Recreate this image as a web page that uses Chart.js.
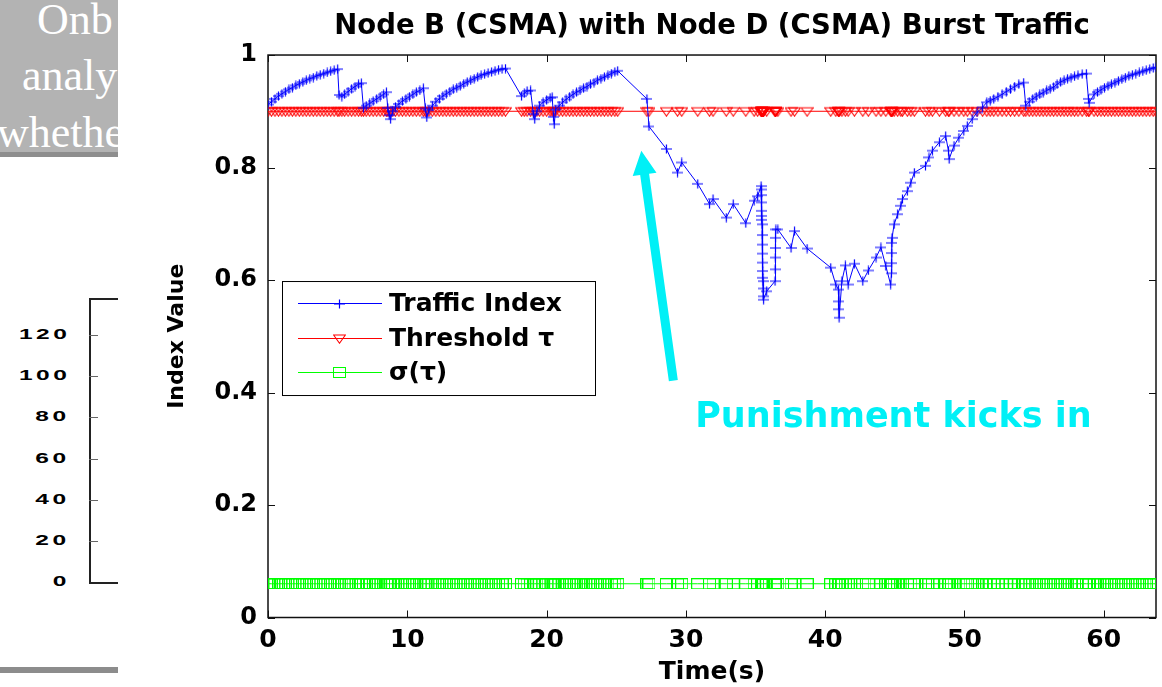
<!DOCTYPE html>
<html>
<head>
<meta charset="utf-8">
<title>Node B (CSMA) with Node D (CSMA) Burst Traffic</title>
<script src="https://cdn.jsdelivr.net/npm/chart.js@4.4.1/dist/chart.umd.min.js"></script>
<style>
  html, body { margin: 0; padding: 0; background: #fff; }
  #wrap { position: relative; width: 1162px; height: 687px; overflow: hidden; background: #fff; }
  #chart { position: absolute; left: 0; top: 0; width: 1162px; height: 687px; }
  #side { position: absolute; left: 0; top: 0; width: 118px; height: 687px; overflow: hidden; background: #fff; }
  #panel { position: absolute; left: 0; top: 0; width: 118px; height: 152px; background: #b3b3b3; overflow: hidden; }
  #panel span { position: absolute; white-space: nowrap; color: #fff; font: 44px/1 "Liberation Serif", "Times New Roman", serif; }
  #panelEdge { position: absolute; left: 0; top: 152px; width: 118px; height: 5px; background: #8e8e8e; }
  #footBar { position: absolute; left: 0; top: 667px; width: 118px; height: 6px; background: #8c8c8c; }
  .rule { position: absolute; background: #222; }
  .tick { position: absolute; background: #666; height: 1px; }
  .sideLabel { position: absolute; right: 48px; height: 18px; line-height: 18px; white-space: nowrap;
               font: bold 14px "Liberation Sans", Arial, sans-serif; letter-spacing: 2px; color: #000;
               transform: scaleX(1.75); transform-origin: right center; }
</style>
</head>
<body>
<div id="wrap">
  <canvas id="chart" width="1162" height="687"></canvas>
  <div id="side">
    <div id="panel">
      <span style="left:37px; top:-2px;">Onb</span>
      <span style="left:22px; top:54px;">analy</span>
      <span style="left:-3px; top:111px;">whethe</span>
    </div>
    <div id="panelEdge"></div>
    <div id="miniAxis"></div>
    <div id="footBar"></div>
  </div>
</div>
<script>
// ---- data -------------------------------------------------------------
const TITLE = 'Node B (CSMA) with Node D (CSMA) Burst Traffic';
const X_TITLE = 'Time(s)';
const Y_TITLE = 'Index Value';
const SERIES_NAMES = ['Traffic Index', 'Threshold \u03c4', '\u03c3(\u03c4)'];

// sample times (s)
const TIME = [
  0.00, 0.25, 0.50, 0.75, 1.00, 1.25, 1.50, 1.75, 2.00, 2.25, 2.50, 2.75, 3.00, 3.25, 3.50, 3.75, 4.00, 4.25, 4.50, 4.75, 5.00,
  5.10, 5.30, 5.50, 5.75, 6.00, 6.25, 6.50, 6.70,
  6.85, 7.05, 7.30, 7.55, 7.80, 8.05, 8.30, 8.50,
  8.60, 8.70, 8.80, 8.95, 9.15, 9.40, 9.65, 9.90, 10.15, 10.40, 10.65, 10.90, 11.15,
  11.30, 11.40, 11.55, 11.80, 12.05, 12.30, 12.55, 12.80, 13.05, 13.30, 13.55, 13.80, 14.05, 14.30, 14.55, 14.80, 15.05, 15.30, 15.55, 15.80, 16.05, 16.30, 16.55, 16.80, 17.05,
  18.20, 18.40, 18.60, 18.85,
  19.05, 19.15, 19.30, 19.50, 19.75, 20.00, 20.25, 20.40,
  20.50, 20.55, 20.65, 20.90, 21.15, 21.40, 21.65, 21.90, 22.15, 22.40, 22.65, 22.90, 23.15, 23.40, 23.65, 23.90, 24.15, 24.40, 24.65, 24.90, 25.10,
  27.20, 27.35, 28.60, 29.40, 29.70, 30.85, 31.70, 31.95, 32.90, 33.40, 34.30, 34.90, 35.15,
  35.40, 35.41, 35.42, 35.43, 35.44, 35.45, 35.46, 35.47, 35.48, 35.49, 35.50, 35.51, 35.52, 35.53, 35.54, 35.55, 35.56, 35.58,
  35.80, 36.40, 36.41, 36.42, 36.43, 36.44, 36.46, 36.60, 37.55, 37.80, 38.70, 40.40, 40.76,
  40.95, 40.97, 40.99, 41.00,
  41.20, 41.45, 41.65, 42.10, 42.70, 43.10, 43.65, 44.00, 44.35, 44.70,
  44.76, 44.77, 44.78, 44.79, 44.80,
  44.95, 45.20, 45.43, 45.55, 45.90, 46.15, 46.40, 47.20, 47.45, 47.70, 48.20, 48.65, 48.85, 48.90, 49.25, 49.60,
  49.95, 50.20, 50.55, 50.90, 51.30, 51.60, 51.85, 52.10, 52.40, 52.70, 53.00, 53.30, 53.60, 53.90, 54.25,
  54.40, 54.65, 54.90, 55.15, 55.40, 55.65, 55.90, 56.15, 56.40, 56.65, 56.90, 57.15, 57.40, 57.65, 57.90, 58.15, 58.45, 58.75,
  58.90, 58.95, 59.30, 59.55, 59.80, 60.05, 60.30, 60.55, 60.80, 61.05, 61.30, 61.55, 61.80, 62.05, 62.30, 62.55, 62.80, 63.05, 63.30, 63.55, 63.75
];

// traffic index at each sample time
const TRAFFIC_INDEX = [
  0.912, 0.917, 0.922, 0.927, 0.931, 0.935, 0.939, 0.942, 0.946, 0.949, 0.952, 0.955, 0.958, 0.960, 0.963, 0.965, 0.967, 0.969, 0.971, 0.973, 0.975,
  0.929, 0.926, 0.930, 0.935, 0.940, 0.944, 0.948, 0.950,
  0.906, 0.910, 0.914, 0.918, 0.922, 0.926, 0.930, 0.934,
  0.906, 0.893, 0.886, 0.900, 0.908, 0.913, 0.918, 0.922, 0.926, 0.930, 0.934, 0.937, 0.941,
  0.905, 0.889, 0.902, 0.910, 0.917, 0.922, 0.927, 0.931, 0.935, 0.939, 0.942, 0.945, 0.949, 0.952, 0.955, 0.958, 0.961, 0.964, 0.966, 0.968, 0.970, 0.972, 0.974, 0.975, 0.976,
  0.927, 0.932, 0.936, 0.937,
  0.895, 0.886, 0.900, 0.910, 0.916, 0.920, 0.924, 0.925,
  0.890, 0.877, 0.903, 0.910, 0.916, 0.921, 0.926, 0.930, 0.934, 0.937, 0.941, 0.944, 0.948, 0.951, 0.955, 0.958, 0.961, 0.964, 0.967, 0.970, 0.972,
  0.922, 0.873, 0.833, 0.791, 0.809, 0.771, 0.735, 0.744, 0.711, 0.735, 0.701, 0.741, 0.749,
  0.767, 0.761, 0.751, 0.738, 0.723, 0.714, 0.707, 0.699, 0.680, 0.663, 0.647, 0.631, 0.616, 0.604, 0.598, 0.585, 0.571, 0.565,
  0.580, 0.598, 0.619, 0.640, 0.657, 0.675, 0.690, 0.690, 0.657, 0.687, 0.656, 0.622, 0.592,
  0.583, 0.562, 0.548, 0.533,
  0.598, 0.626, 0.592, 0.629, 0.598, 0.617, 0.640, 0.658, 0.625, 0.592,
  0.612, 0.630, 0.648, 0.666, 0.675,
  0.699, 0.717, 0.732, 0.744, 0.758, 0.773, 0.791, 0.803, 0.818, 0.830, 0.845, 0.856, 0.830, 0.815, 0.839, 0.853,
  0.865, 0.874, 0.886, 0.898, 0.907, 0.916, 0.919, 0.922, 0.926, 0.930, 0.935, 0.939, 0.944, 0.948, 0.951,
  0.910, 0.917, 0.922, 0.926, 0.930, 0.933, 0.937, 0.940, 0.943, 0.948, 0.952, 0.955, 0.958, 0.960, 0.962, 0.964, 0.966, 0.967,
  0.922, 0.915, 0.930, 0.934, 0.938, 0.942, 0.945, 0.948, 0.951, 0.954, 0.957, 0.960, 0.963, 0.965, 0.967, 0.969, 0.971, 0.973, 0.975, 0.977, 0.978
];

// detection threshold and its deviation (constant over the run)
const THRESHOLD_TAU = 0.9;
const SIGMA_TAU = 0.06;

// axis ticks
const X_TICKS = [0, 10, 20, 30, 40, 50, 60];
const Y_TICKS = [0, 0.2, 0.4, 0.6, 0.8, 1];
const SIDE_TICKS = [0, 20, 40, 60, 80, 100, 120];

// callout text and arrow, in data units
const CALLOUT_TEXT = 'Punishment kicks in';
const CALLOUT_AT = { x: 44.9, y: 0.355 };
const ARROW_TAIL = { x: 29.1, y: 0.421 };
const ARROW_TIP = { x: 26.8, y: 0.830 };

// ---- styling ------------------------------------------------------------
const FONT = "'DejaVu Sans', 'Liberation Sans', sans-serif";
const BLUE = '#0000ff', RED = '#ff0000', GREEN = '#00ff00', CYAN = '#00f0f6';

function markerCanvas(w, h, draw) {
  const c = document.createElement('canvas');
  c.width = w; c.height = h;
  const g = c.getContext('2d');
  g.lineWidth = 1;
  draw(g, w, h);
  return c;
}
const plusMarker = markerCanvas(11, 10, g => {
  g.strokeStyle = BLUE;
  g.lineWidth = 1.2;
  g.beginPath();
  g.moveTo(0, 5); g.lineTo(11, 5);
  g.moveTo(5.5, 0.5); g.lineTo(5.5, 9.5);
  g.stroke();
});
const triangleMarker = markerCanvas(13, 11, g => {
  g.strokeStyle = RED;
  g.lineWidth = 1.1;
  g.beginPath();
  g.moveTo(0.6, 2); g.lineTo(12.4, 2); g.lineTo(6.5, 10.2); g.closePath();
  g.stroke();
});
const squareMarker = markerCanvas(13, 11, g => {
  g.strokeStyle = GREEN;
  g.strokeRect(0.5, 0.5, 12, 10);
});

// ---- side panel axis ---------------------------------------------------
(function buildMiniAxis() {
  const host = document.getElementById('miniAxis');
  const y0 = 582.3, yTop = 298.3, pxPerUnit = (582.3 - 335) / 120, axisX = 89;
  const add = (cls, css, text) => {
    const d = document.createElement('div');
    d.className = cls; d.style.cssText = css;
    if (text !== undefined) d.textContent = text;
    host.appendChild(d);
  };
  add('rule', `left:${axisX}px;top:${yTop}px;width:1.5px;height:${y0 - yTop + 1}px;`);
  add('rule', `left:${axisX}px;top:${yTop}px;width:${118 - axisX}px;height:1.3px;`);
  add('rule', `left:${axisX}px;top:${y0}px;width:${118 - axisX}px;height:1.3px;`);
  SIDE_TICKS.forEach(v => {
    const y = y0 - v * pxPerUnit;
    if (v > 0) add('tick', `left:${axisX}px;top:${y}px;width:9px;`);
    add('sideLabel', `top:${y - 9}px;`, String(v));
  });
})();

// ---- chart plugins -----------------------------------------------------
const axesBox = {
  id: 'axesBox',
  beforeDatasetsDraw(chart) {
    const { ctx, chartArea: { left, right, top, bottom }, scales: { x, y } } = chart;
    ctx.save();
    ctx.strokeStyle = '#111';
    ctx.lineWidth = 1.5;
    ctx.strokeRect(left, top, right - left, bottom - top);
    ctx.lineWidth = 1;
    const L = 7;
    ctx.beginPath();
    x.ticks.forEach(t => {
      const px = Math.round(x.getPixelForValue(t.value)) + 0.5;
      ctx.moveTo(px, bottom); ctx.lineTo(px, bottom - L);
      ctx.moveTo(px, top); ctx.lineTo(px, top + L);
    });
    y.ticks.forEach(t => {
      const py = Math.round(y.getPixelForValue(t.value)) + 0.5;
      ctx.moveTo(left, py); ctx.lineTo(left + L, py);
      ctx.moveTo(right, py); ctx.lineTo(right - L, py);
    });
    ctx.stroke();
    ctx.restore();
  }
};

const boxLegend = {
  id: 'boxLegend',
  afterDatasetsDraw(chart) {
    const { ctx, chartArea } = chart;
    const left = chartArea.left + 14, top = chartArea.top + 226, w = 313, h = 114;
    ctx.save();
    ctx.fillStyle = '#fff';
    ctx.fillRect(left, top, w, h);
    ctx.strokeStyle = '#000';
    ctx.lineWidth = 1;
    ctx.strokeRect(left + 0.5, top + 0.5, w, h);
    ctx.font = `bold 25px ${FONT}`;
    ctx.textBaseline = 'middle';
    ctx.textAlign = 'left';
    chart.data.datasets.forEach((ds, i) => {
      const cy = Math.round(top + 22 + i * 34.5) + 0.5;
      ctx.strokeStyle = ds.borderColor;
      ctx.beginPath();
      ctx.moveTo(left + 16, cy); ctx.lineTo(left + 100, cy);
      ctx.stroke();
      const m = ds.pointStyle;
      ctx.drawImage(m, Math.round(left + 57 - m.width / 2), Math.round(cy - m.height / 2));
      ctx.fillStyle = '#000';
      ctx.fillText(ds.label, left + 107, cy + 1);
    });
    ctx.restore();
  }
};

const callout = {
  id: 'callout',
  afterDraw(chart) {
    const { ctx, scales: { x, y } } = chart;
    const tx = x.getPixelForValue(ARROW_TIP.x), ty = y.getPixelForValue(ARROW_TIP.y);
    const bx = x.getPixelForValue(ARROW_TAIL.x), by = y.getPixelForValue(ARROW_TAIL.y);
    const dx = tx - bx, dy = ty - by, len = Math.hypot(dx, dy);
    const ux = dx / len, uy = dy / len, nx = -uy, ny = ux;
    const headLen = 24, headHalf = 12, shaftHalf = 4.5;
    const hx = tx - ux * headLen, hy = ty - uy * headLen;
    ctx.save();
    ctx.fillStyle = CYAN;
    ctx.beginPath();
    ctx.moveTo(bx + nx * shaftHalf, by + ny * shaftHalf);
    ctx.lineTo(hx + nx * shaftHalf, hy + ny * shaftHalf);
    ctx.lineTo(hx + nx * headHalf, hy + ny * headHalf);
    ctx.lineTo(tx, ty);
    ctx.lineTo(hx - nx * headHalf, hy - ny * headHalf);
    ctx.lineTo(hx - nx * shaftHalf, hy - ny * shaftHalf);
    ctx.lineTo(bx - nx * shaftHalf, by - ny * shaftHalf);
    ctx.closePath();
    ctx.fill();
    ctx.font = `bold 35px ${FONT}`;
    ctx.textAlign = 'center';
    ctx.textBaseline = 'middle';
    ctx.fillText(CALLOUT_TEXT, x.getPixelForValue(CALLOUT_AT.x), y.getPixelForValue(CALLOUT_AT.y));
    ctx.restore();
  }
};

// ---- chart ---------------------------------------------------------------
const series = values => TIME.map((t, i) => ({ x: t, y: values[i] }));
const constant = value => TIME.map(t => ({ x: t, y: value }));

const lineSet = (label, data, color, marker) => ({
  label, data,
  showLine: true,
  borderColor: color,
  backgroundColor: color,
  borderWidth: 1,
  pointStyle: marker,
  pointRadius: 5,
  pointHoverRadius: 5,
  tension: 0
});

new Chart(document.getElementById('chart'), {
  type: 'scatter',
  data: {
    datasets: [
      lineSet(SERIES_NAMES[0], series(TRAFFIC_INDEX), BLUE, plusMarker),
      lineSet(SERIES_NAMES[1], constant(THRESHOLD_TAU), RED, triangleMarker),
      lineSet(SERIES_NAMES[2], constant(SIGMA_TAU), GREEN, squareMarker)
    ]
  },
  options: {
    responsive: false,
    animation: false,
    events: [],
    layout: { padding: { left: 150, right: 4.5, top: 0, bottom: 0 } },
    plugins: {
      legend: { display: false },
      tooltip: { enabled: false },
      title: {
        display: true,
        fullSize: false,
        text: TITLE,
        color: '#000',
        font: { family: FONT, weight: 'bold', size: 27.5, lineHeight: 1.15 },
        padding: { top: 11, bottom: 12.4 }
      }
    },
    scales: {
      x: {
        type: 'linear',
        min: 0,
        max: 63.75,
        grid: { display: false, drawTicks: false },
        border: { display: false },
        ticks: { color: '#000', font: { family: FONT, weight: 'bold', size: 25 }, padding: 8, maxRotation: 0, autoSkip: false,
                 callback: v => String(v) },
        title: { display: true, text: X_TITLE, color: '#000', font: { family: FONT, weight: 'bold', size: 25, lineHeight: 1.2 }, padding: { top: 0, bottom: 0 } },
        afterBuildTicks: s => { s.ticks = X_TICKS.map(v => ({ value: v })); },
        afterFit: s => { s.height = 69.5; }
      },
      y: {
        type: 'linear',
        min: 0,
        max: 1,
        grid: { display: false, drawTicks: false },
        border: { display: false },
        ticks: { color: '#000', font: { family: FONT, weight: 'bold', size: 24 }, padding: 11, autoSkip: false,
                 callback: v => String(v) },
        title: { display: true, text: Y_TITLE, color: '#000', font: { family: FONT, weight: 'bold', size: 22, lineHeight: 1.2 }, padding: { top: 14, bottom: 0 } },
        afterBuildTicks: s => { s.ticks = Y_TICKS.map(v => ({ value: v })); },
        afterFit: s => { s.width = 118; }
      }
    }
  },
  plugins: [axesBox, boxLegend, callout]
});
</script>
</body>
</html>
